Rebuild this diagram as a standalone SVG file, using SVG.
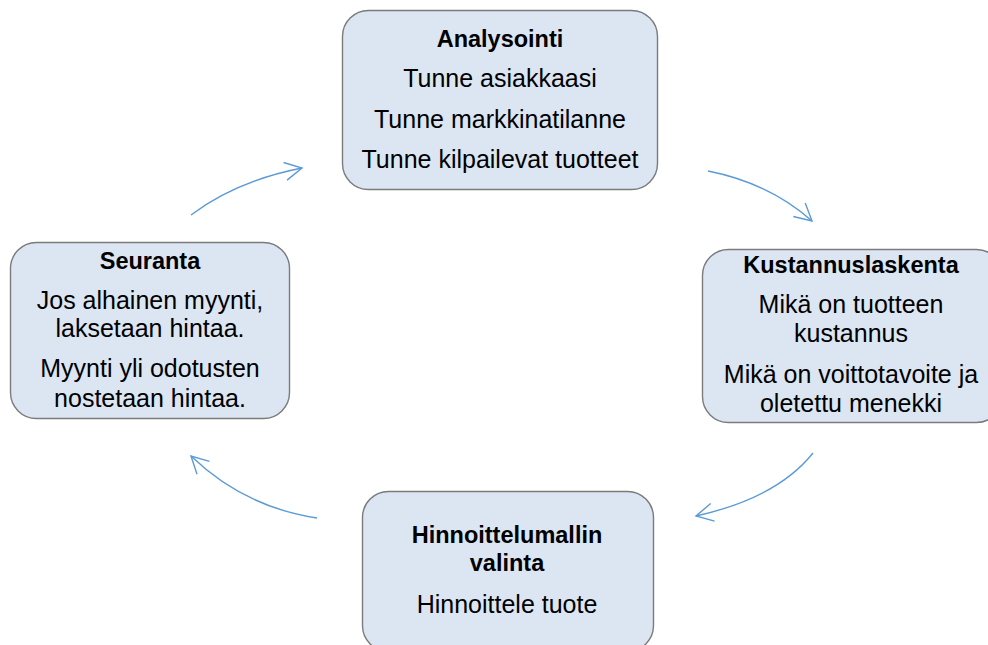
<svg xmlns="http://www.w3.org/2000/svg" width="988" height="645" viewBox="0 0 988 645">
<defs>
<style>
.box{fill:#dce6f2;stroke:#7b7b7b;stroke-width:1.4}
.t{font-family:"Liberation Sans",Arial,sans-serif;font-size:25px;fill:#000;text-anchor:middle}
.b{font-weight:bold;font-size:23.5px}
.c{fill:none;stroke:#5b9bd5;stroke-width:1.4;marker-end:url(#ah)}
</style>
<marker id="ah" viewBox="0 0 20 20" refX="18" refY="10" markerWidth="20" markerHeight="20" markerUnits="userSpaceOnUse" orient="auto">
<path d="M1,1 L18,10 L1,19" fill="none" stroke="#5b9bd5" stroke-width="1.4"/>
</marker>
</defs>
<rect width="988" height="645" fill="#fff"/>
<g id="connectors">
<path class="c" d="M191,215 Q236,181 302,168"/>
<path class="c" d="M708,171 Q769,183 812,221"/>
<path class="c" d="M813,453 Q777,498 696,516"/>
<path class="c" d="M317,518 Q244,507 191,456"/>
</g>
<g id="analysointi">
<rect class="box" x="342.5" y="10.5" width="315" height="179" rx="26"/>
<text class="t b" x="500" y="47">Analysointi</text>
<text class="t" x="500" y="87">Tunne asiakkaasi</text>
<text class="t" x="500" y="128">Tunne markkinatilanne</text>
<text class="t" x="500" y="168">Tunne kilpailevat tuotteet</text>
</g>
<g id="kustannuslaskenta">
<rect class="box" x="702.5" y="249.5" width="300" height="173" rx="26"/>
<text class="t b" x="851" y="273">Kustannuslaskenta</text>
<text class="t" x="851" y="313">Mikä on tuotteen</text>
<text class="t" x="851" y="342">kustannus</text>
<text class="t" x="851" y="383">Mikä on voittotavoite ja</text>
<text class="t" x="851" y="412">oletettu menekki</text>
</g>
<g id="hinnoittelu">
<rect class="box" x="362.5" y="491.5" width="291" height="160" rx="26"/>
<text class="t b" x="507" y="543">Hinnoittelumallin</text>
<text class="t b" x="507" y="571">valinta</text>
<text class="t" x="507" y="613">Hinnoittele tuote</text>
</g>
<g id="seuranta">
<rect class="box" x="10.5" y="242.5" width="279" height="176" rx="26"/>
<text class="t b" x="150" y="269">Seuranta</text>
<text class="t" x="150" y="309">Jos alhainen myynti,</text>
<text class="t" x="150" y="337">laksetaan hintaa.</text>
<text class="t" x="150" y="377">Myynti yli odotusten</text>
<text class="t" x="150" y="407">nostetaan hintaa.</text>
</g>
</svg>
